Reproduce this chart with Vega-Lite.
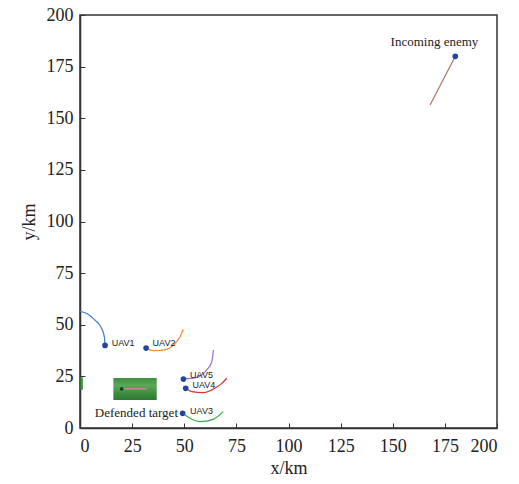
{
  "$schema": "https://vega.github.io/schema/vega-lite/v6.json",
  "width": 417,
  "height": 413,
  "autosize": {"type": "none"},
  "padding": {"left": 80, "top": 15, "right": 22, "bottom": 56},
  "background": "white",
  "config": {
    "view": {"stroke": "#333333", "strokeWidth": 1.5},
    "axis": {
      "grid": false,
      "domainColor": "#333333",
      "domainWidth": 1.5,
      "tickColor": "#333333",
      "tickSize": -5,
      "labelFont": "Liberation Serif",
      "labelFontSize": 18,
      "labelColor": "#222222",
      "titleFont": "Liberation Serif",
      "titleFontSize": 18,
      "titleFontWeight": "normal",
      "titleColor": "#222222"
    }
  },
  "datasets": {
    "lines": [
      {"s": "UAV1", "o": 0, "x": 0, "y": 56.5},
      {"s": "UAV1", "o": 1, "x": 3.5, "y": 55.3},
      {"s": "UAV1", "o": 2, "x": 7.2, "y": 52.2},
      {"s": "UAV1", "o": 3, "x": 10.4, "y": 48.2},
      {"s": "UAV1", "o": 4, "x": 11.7, "y": 44},
      {"s": "UAV1", "o": 5, "x": 12, "y": 40},
      {"s": "UAV2", "o": 0, "x": 31.7, "y": 38.7},
      {"s": "UAV2", "o": 1, "x": 34, "y": 37.7},
      {"s": "UAV2", "o": 2, "x": 36.8, "y": 37.4},
      {"s": "UAV2", "o": 3, "x": 41.6, "y": 38.1},
      {"s": "UAV2", "o": 4, "x": 45.6, "y": 41},
      {"s": "UAV2", "o": 5, "x": 48, "y": 44.2},
      {"s": "UAV2", "o": 6, "x": 49.5, "y": 47.8},
      {"s": "UAV5", "o": 0, "x": 49.6, "y": 23.7},
      {"s": "UAV5", "o": 1, "x": 56, "y": 24.5},
      {"s": "UAV5", "o": 2, "x": 60.8, "y": 28.1},
      {"s": "UAV5", "o": 3, "x": 63.2, "y": 32.1},
      {"s": "UAV5", "o": 4, "x": 64, "y": 37.8},
      {"s": "UAV4", "o": 0, "x": 50.7, "y": 19.2},
      {"s": "UAV4", "o": 1, "x": 53.6, "y": 17.6},
      {"s": "UAV4", "o": 2, "x": 59.1, "y": 17.1},
      {"s": "UAV4", "o": 3, "x": 64.7, "y": 19.2},
      {"s": "UAV4", "o": 4, "x": 68, "y": 21.6},
      {"s": "UAV4", "o": 5, "x": 70.4, "y": 24.1},
      {"s": "UAV3", "o": 0, "x": 49.2, "y": 7.1},
      {"s": "UAV3", "o": 1, "x": 52.8, "y": 4.7},
      {"s": "UAV3", "o": 2, "x": 57.6, "y": 3.1},
      {"s": "UAV3", "o": 3, "x": 63.9, "y": 4.2},
      {"s": "UAV3", "o": 4, "x": 68.7, "y": 7.9},
      {"s": "Enemy", "o": 0, "x": 180, "y": 180},
      {"s": "Enemy", "o": 1, "x": 167.9, "y": 156.4},
      {"s": "Edge", "o": 0, "x": 0.8, "y": 18.5},
      {"s": "Edge", "o": 1, "x": 0.8, "y": 24.5}
    ],
    "target": [{"x1": 16, "x2": 36.8, "y1": 13.6, "y2": 24.2}],
    "targetline": [
      {"x": 20, "y": 19},
      {"x": 32, "y": 19}
    ],
    "points": [
      {"name": "UAV1", "x": 12, "y": 40},
      {"name": "UAV2", "x": 31.7, "y": 38.7},
      {"name": "UAV3", "x": 49.2, "y": 7.1},
      {"name": "UAV4", "x": 50.7, "y": 19.2},
      {"name": "UAV5", "x": 49.6, "y": 23.7},
      {"name": "Enemy", "x": 180, "y": 180}
    ],
    "uavlabels": [
      {"t": "UAV1", "x": 15.2, "y": 41},
      {"t": "UAV2", "x": 34.8, "y": 41},
      {"t": "UAV5", "x": 52.8, "y": 25.7},
      {"t": "UAV4", "x": 53.9, "y": 20.8},
      {"t": "UAV3", "x": 52.8, "y": 8.2}
    ],
    "enemylabel": [{"t": "Incoming enemy", "x": 170, "y": 187}],
    "targetlabel": [{"t": "Defended target", "x": 47, "y": 7.3}]
  },
  "layer": [
    {
      "data": {"name": "target"},
      "mark": {
        "type": "rect",
        "color": {
          "gradient": "linear",
          "x1": 0, "y1": 0, "x2": 0, "y2": 1,
          "stops": [
            {"offset": 0, "color": "#3f8f3f"},
            {"offset": 0.35, "color": "#5aa95a"},
            {"offset": 0.7, "color": "#3d8c3d"},
            {"offset": 1, "color": "#2f7a32"}
          ]
        }
      },
      "encoding": {
        "x": {"field": "x1", "type": "quantitative", "scale": {"domain": [0, 200], "nice": false}, "axis": {"values": [0, 25, 50, 75, 100, 125, 150, 175, 200], "title": "x/km", "labelPadding": 14, "titlePadding": 4}},
        "x2": {"field": "x2"},
        "y": {"field": "y1", "type": "quantitative", "scale": {"domain": [0, 200], "nice": false}, "axis": {"values": [0, 25, 50, 75, 100, 125, 150, 175, 200], "title": "y/km", "labelPadding": 12, "titlePadding": 8}},
        "y2": {"field": "y2"}
      }
    },
    {
      "data": {"name": "targetline"},
      "mark": {"type": "line", "color": "#c9829c", "strokeWidth": 1.5},
      "encoding": {
        "x": {"field": "x", "type": "quantitative"},
        "y": {"field": "y", "type": "quantitative"}
      }
    },
    {
      "data": {"name": "targetline"},
      "transform": [{"filter": "datum.x < 25"}],
      "mark": {"type": "point", "filled": true, "color": "#1f3a22", "size": 14, "opacity": 1},
      "encoding": {
        "x": {"field": "x", "type": "quantitative"},
        "y": {"field": "y", "type": "quantitative"}
      }
    },
    {
      "data": {"name": "lines"},
      "mark": {"type": "line", "clip": true, "interpolate": "monotone"},
      "encoding": {
        "x": {"field": "x", "type": "quantitative"},
        "y": {"field": "y", "type": "quantitative"},
        "order": {"field": "o", "type": "quantitative"},
        "detail": {"field": "s"},
        "color": {
          "field": "s",
          "type": "nominal",
          "legend": null,
          "scale": {
            "domain": ["UAV1", "UAV2", "UAV3", "UAV4", "UAV5", "Enemy", "Edge"],
            "range": ["#3f7fbf", "#f28a2e", "#3ea84a", "#d8332e", "#9a6ec8", "#a8736a", "#3a9a3a"]
          }
        },
        "strokeWidth": {"condition": {"test": "datum.s === 'Edge'", "value": 2.5}, "value": 1.2}
      }
    },
    {
      "data": {"name": "points"},
      "mark": {"type": "point", "filled": true, "color": "#23479e", "size": 32, "opacity": 1},
      "encoding": {
        "x": {"field": "x", "type": "quantitative"},
        "y": {"field": "y", "type": "quantitative"}
      }
    },
    {
      "data": {"name": "uavlabels"},
      "mark": {"type": "text", "align": "left", "baseline": "middle", "font": "Liberation Sans", "fontSize": 9, "color": "#222222"},
      "encoding": {
        "x": {"field": "x", "type": "quantitative"},
        "y": {"field": "y", "type": "quantitative"},
        "text": {"field": "t"}
      }
    },
    {
      "data": {"name": "enemylabel"},
      "mark": {"type": "text", "align": "center", "baseline": "middle", "font": "Liberation Serif", "fontSize": 13, "color": "#222222"},
      "encoding": {
        "x": {"field": "x", "type": "quantitative"},
        "y": {"field": "y", "type": "quantitative"},
        "text": {"field": "t"}
      }
    },
    {
      "data": {"name": "targetlabel"},
      "mark": {"type": "text", "align": "right", "baseline": "middle", "font": "Liberation Serif", "fontSize": 13, "color": "#222222"},
      "encoding": {
        "x": {"field": "x", "type": "quantitative"},
        "y": {"field": "y", "type": "quantitative"},
        "text": {"field": "t"}
      }
    }
  ]
}
